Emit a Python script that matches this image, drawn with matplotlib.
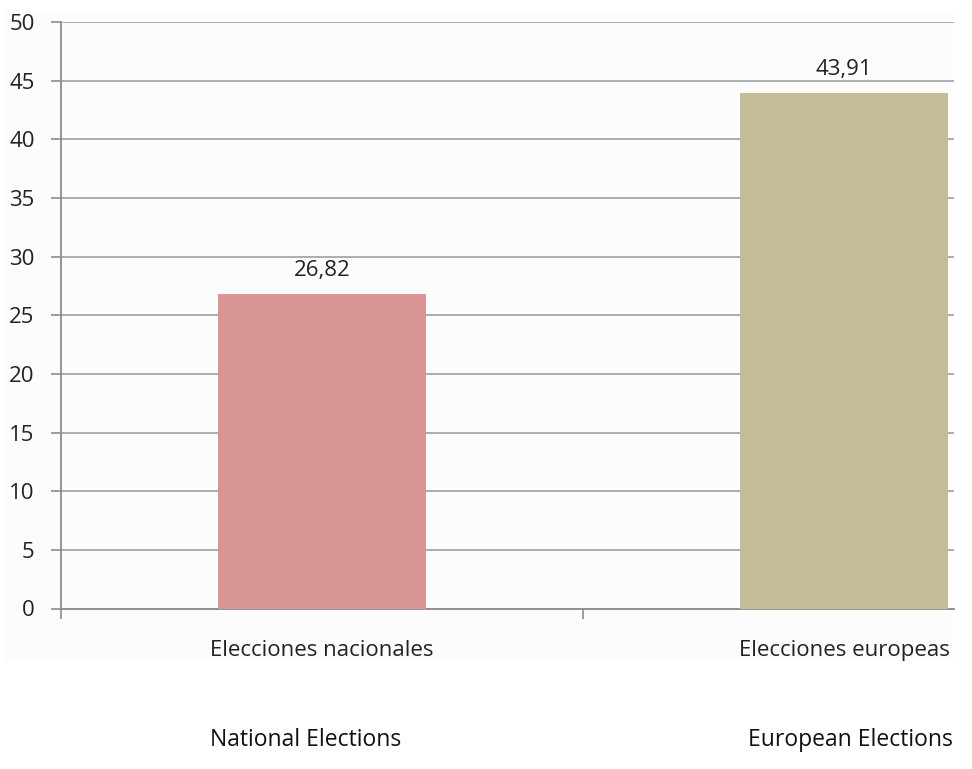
import matplotlib
matplotlib.use("Agg")
import matplotlib.pyplot as plt
from matplotlib.patches import Rectangle

# Data
categories_es = ["Elecciones nacionales", "Elecciones europeas"]
categories_en = ["National Elections", "European Elections"]
values = [26.82, 43.91]
bar_colors = ["#d99594", "#c4bd97"]
y_ticks = [0, 5, 10, 15, 20, 25, 30, 35, 40, 45, 50]

plt.rcParams["font.family"] = ["Open Sans", "DejaVu Sans"]

fig = plt.figure(figsize=(9.72, 7.69), dpi=100)
fig.patch.set_facecolor("white")
# faint chart-area background, kept beneath the plotting axes
fig.patches.append(Rectangle((5 / 972, 1 - 662 / 769), 948 / 972, 652 / 769,
                             transform=fig.transFigure, facecolor="#fcfcfc",
                             edgecolor="none", zorder=-10))

ax = fig.add_axes([61 / 972, 1 - 608.5 / 769, 893 / 972, 586.5 / 769])
ax.set_facecolor("none")
ax.set_zorder(5)

x = list(range(len(values)))
ax.bar(x, values, width=0.4, color=bar_colors, zorder=3)

for xi, v in zip(x, values):
    ax.annotate(f"{v:.2f}".replace(".", ","), (xi, v), xytext=(0, 17),
                textcoords="offset points", ha="center", va="center",
                fontsize=16, color="#222222")

ax.set_ylim(0, 50)
ax.set_xlim(-0.5, 0.5 + 371 / 522)
ax.set_yticks(y_ticks)
ax.set_yticklabels([str(t) for t in y_ticks], fontsize=16, color="#222222")
ax.yaxis.grid(True, color="#a6a6a6", linewidth=1.3, zorder=0)
ax.set_axisbelow(True)

ax.set_xticks([-0.5, 0.5])
ax.set_xticklabels([])
ax.tick_params(axis="x", length=7, width=1.2, color="#8c8c8c")
ax.tick_params(axis="y", length=7, width=1.2, color="#8c8c8c", pad=12)

for side in ("top", "right"):
    ax.spines[side].set_visible(False)
for side in ("left", "bottom"):
    ax.spines[side].set_color("#8c8c8c")
    ax.spines[side].set_linewidth(1.3)

# Spanish category names under the axis
for xi, name in zip(x, categories_es):
    ax.annotate(name, (xi, 0), xytext=(0, -30), textcoords="offset points",
                ha="center", va="center", fontsize=16, color="#222222",
                annotation_clip=False)

# English translations further below
en_x = [306 / 972, 850 / 972]
for fx, name in zip(en_x, categories_en):
    fig.text(fx, 1 - 740 / 769, name, ha="center", va="center",
             fontsize=16.5, color="#111111")

fig.savefig("out.png", dpi=100)
